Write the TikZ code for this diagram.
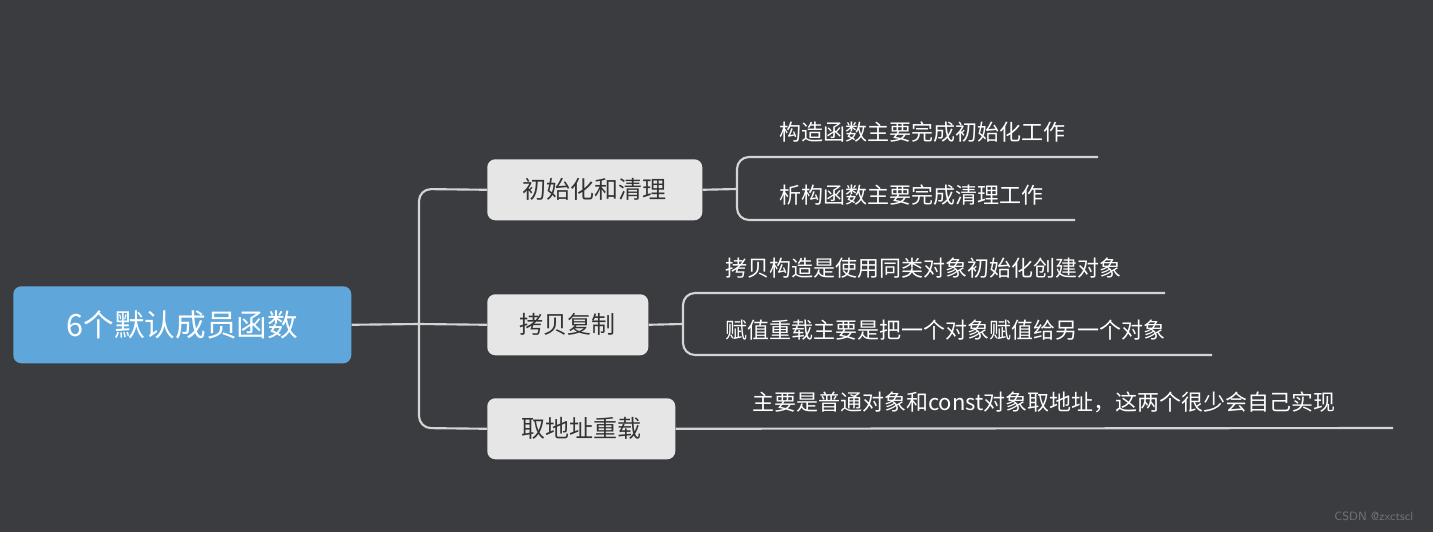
\documentclass[tikz,border=0pt]{standalone}
\usepackage{fontspec}
\setmainfont{Noto Sans CJK SC}
\begin{document}
\begin{tikzpicture}[x=0.75pt,y=-0.75pt,
  ln/.style={draw=lc,line width=1.6pt,rounded corners=9pt},
  br/.style={fill=boxc,rounded corners=6pt,text=black!80,font=\fontsize{18}{20}\selectfont,anchor=north west,inner sep=0pt},
  lf/.style={text=white,font=\fontsize{16.5}{19}\selectfont,anchor=west,inner sep=0pt}]
\definecolor{bg}{HTML}{3B3C40}\definecolor{lc}{HTML}{D4D4D4}
\definecolor{boxc}{HTML}{E6E6E6}\definecolor{rootc}{HTML}{5FA6DA}
\fill[bg] (0,0) rectangle (1433,532);
\useasboundingbox (0,0) rectangle (1433,532);
\node[fill=rootc,rounded corners=6pt,minimum width=338*0.75pt,minimum height=77*0.75pt,anchor=north west,text=white,font=\fontsize{23}{26}\selectfont] (root) at (13,286) {6个默认成员函数};
\node[br,minimum width=215*0.75pt,minimum height=61*0.75pt] (b1) at (487,159) {初始化和清理};
\node[br,minimum width=161*0.75pt,minimum height=61*0.75pt] (b2) at (487,294) {拷贝复制};
\node[br,minimum width=188*0.75pt,minimum height=61*0.75pt] (b3) at (487,398) {取地址重载};
\coordinate (j) at (419,324);
\draw[ln] (root.east) -- (j);
\draw[ln] (b1.west) -- (419,189) -- (419,428) -- (b3.west);
\draw[ln] (j) -- (b2.west);
% leaves
\node[lf] (l1) at (779,132) {构造函数主要完成初始化工作};
\node[lf] (l2) at (779,195) {析构函数主要完成清理工作};
\node[lf] (l3) at (725,268) {拷贝构造是使用同类对象初始化创建对象};
\node[lf] (l4) at (725,330) {赋值重载主要是把一个对象赋值给另一个对象};
\node[lf] (l5) at (752,402) {主要是普通对象和const对象取地址，这两个很少会自己实现};
\draw[ln] (b1.east) -- (737,189);
\draw[ln] (1098,157) -- (737,157) -- (737,220) -- (1075,220);
\draw[ln] (b2.east) -- (683,324);
\draw[ln] (1165,293) -- (683,293) -- (683,355) -- (1212,355);
\draw[ln] (b3.east) -- (1393,428);
\node[anchor=east,text=black!55,font=\fontsize{9}{10}\selectfont\sffamily] at (1418,516) {CSDN @zxctscl};
\end{tikzpicture}
\end{document}
